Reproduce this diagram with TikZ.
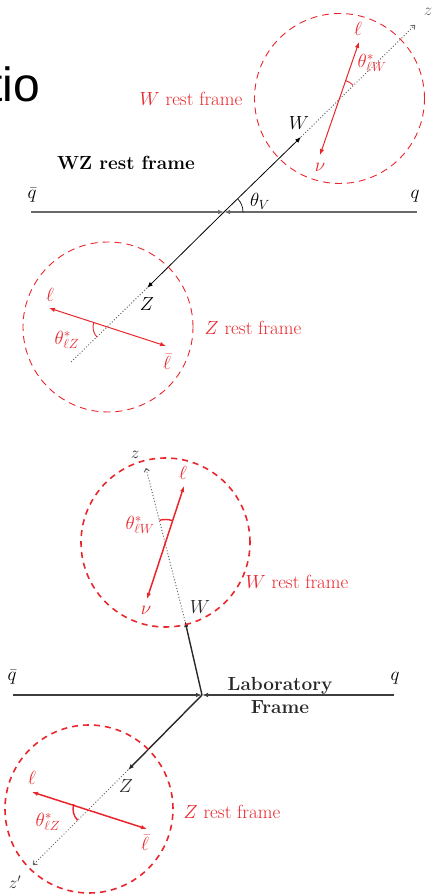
\RequirePackage{fix-cm}
\documentclass[tikz,border=0pt]{standalone}
\usepackage{fontspec}
\newfontfamily\slidefont{Liberation Sans}
\usetikzlibrary{arrows.meta}
\definecolor{fr}{RGB}{232,38,44}
\definecolor{ln}{RGB}{105,105,105}
\definecolor{dk}{RGB}{40,40,40}
\begin{document}
\begin{tikzpicture}[x=1pt,y=1pt,
  lbl/.style={font=\fontsize{19}{23}\selectfont, inner sep=0pt},
  smalllbl/.style={font=\fontsize{17}{20}\selectfont, inner sep=0pt},
  rlbl/.style={lbl, text=fr},
  qlineA/.style={draw=ln, line width=1.1pt, -{Latex[length=6pt,width=4.5pt]}},
  qlineB/.style={draw=dk!90, line width=1.3pt, -{Latex[length=6pt,width=4.5pt]}},
  bosA/.style={draw=black, line width=0.8pt, -{Latex[length=6pt,width=4.5pt]}},
  bosB/.style={draw=dk, line width=1.4pt, -{Latex[length=6pt,width=4.5pt]}},
  dotA/.style={draw=ln, line width=1pt, dotted},
  dotB/.style={draw=ln, line width=1pt, dotted},
  circA/.style={draw=fr, line width=0.9pt, dash pattern=on 7pt off 5pt},
  circB/.style={draw=fr, line width=1.6pt, dash pattern=on 6pt off 5pt},
  redA/.style={draw=fr, line width=1pt, {Latex[length=6pt,width=4.5pt]}-{Latex[length=6pt,width=4.5pt]}},
  redB/.style={draw=fr, line width=1.5pt, {Latex[length=6pt,width=4.5pt]}-{Latex[length=6pt,width=4.5pt]}},
  arcA/.style={draw=fr, line width=0.9pt},
  arcB/.style={draw=fr, line width=1.4pt},
]
\useasboundingbox (0,0) rectangle (439,894);

% slide title fragment
\node[font=\slidefont\fontsize{48}{50}\selectfont, anchor=base east, inner sep=0pt] (tio) at (40,792) {tio};

%%%%%%%%%%%%%%%% TOP: WZ rest frame
\coordinate (O1) at (224,682);
\coordinate (qbL1) at (31,682);
\coordinate (qR1) at (417,682);
\coordinate (W1) at (301,757);
\coordinate (z1) at (415,869);
\coordinate (Wc1) at (339.5,795.5);
\coordinate (nu1) at (320,739);
\coordinate (lw1) at (359,852);
\coordinate (Z1) at (147,606);
\coordinate (zend1) at (70,531);
\coordinate (Zc1) at (108,567);
\coordinate (lz1) at (49,586);
\coordinate (lbz1) at (166,548);

\draw[qlineA] (qbL1) -- (O1);
\draw[qlineA] (qR1) -- (O1);
\draw[bosA] (O1) -- (W1);
\draw[bosA] (O1) -- (Z1);
\draw[dotA, -{To[length=4pt,width=6pt]}] (W1) -- (z1);
\draw[dotA] (Z1) -- (zend1);
\draw[circA] (Wc1) circle[radius=85];
\draw[circA] (Zc1) circle[radius=85];
\draw[redA] (nu1) -- (lw1);
\draw[redA] (lz1) -- (lbz1);
\draw[black, line width=0.7pt] (O1) ++(0:19) arc[start angle=0, end angle=44, radius=19];
\draw[arcA] (Wc1) ++(44.5:19) arc[start angle=44.5, end angle=71, radius=19];
\draw[arcA] (Zc1) ++(162:15) arc[start angle=162, end angle=223.5, radius=15];

\node[lbl] (tqb1) at (32,699) {$\bar q$};
\node[lbl] (tq1) at (415,698) {$q$};
\node[lbl] (tthV) at (260,693) {$\theta_V$};
\node[lbl] (tW1) at (299,771) {$W$};
\node[lbl] (tZ1) at (147,590) {$Z$};
\node[smalllbl, text=ln] (tz1) at (428,882) {$z$};
\node[rlbl] (tl1) at (358,865) {$\ell$};
\node[rlbl] (tnu1) at (320,727) {$\nu$};
\node[rlbl] (tthW1) at (372,831) {$\theta^*_{\ell W}$};
\node[rlbl] (tl2) at (50,599) {$\ell$};
\node[rlbl] (tlb1) at (167,532) {$\bar\ell$};
\node[rlbl] (tthZ1) at (67,554) {$\theta^*_{\ell Z}$};
\node[rlbl] (tWrf1) at (191,795) {$W$ rest frame};
\node[rlbl] (tZrf1) at (253,566) {$Z$ rest frame};
\node[lbl] (tWZ) at (126,731) {\textbf{WZ rest frame}};

%%%%%%%%%%%%%%%% BOTTOM: Laboratory frame
\coordinate (O2) at (202,199);
\coordinate (qbL2) at (13,199);
\coordinate (qR2) at (394,199);
\coordinate (W2) at (185,273);
\coordinate (z2) at (146,426);
\coordinate (Wc2) at (165.5,351.5);
\coordinate (nu2) at (147,295);
\coordinate (lw2) at (184,408);
\coordinate (Z2) at (128,124);
\coordinate (zp2) at (33,29);
\coordinate (Zc2) at (89,85);
\coordinate (lz2) at (32,102);
\coordinate (lbz2) at (147,65);

\draw[qlineB] (qbL2) -- (O2);
\draw[qlineB] (qR2) -- (O2);
\draw[bosB] (O2) -- (W2);
\draw[bosB] (O2) -- (Z2);
\draw[dotB, -{To[length=4pt,width=6pt]}] (W2) -- (z2);
\draw[dotB, -{To[length=4pt,width=6pt]}] (Z2) -- (zp2);
\draw[circB] (Wc2) circle[radius=84.5];
\draw[circB] (Zc2) circle[radius=84];
\draw[redB] (nu2) -- (lw2);
\draw[redB] (lz2) -- (lbz2);
\draw[arcB] (Wc2) ++(72:23) arc[start angle=72, end angle=105, radius=23];
\draw[arcB] (Zc2) ++(162:16) arc[start angle=162, end angle=225, radius=16];

\node[lbl] (tqb2) at (12,217) {$\bar q$};
\node[lbl] (tq2) at (395,216) {$q$};
\node[lbl, text=dk] (tW2) at (200,287) {$W$};
\node[lbl, text=dk] (tZ2) at (126,108) {$Z$};
\node[smalllbl, text=dk] (tz2) at (135,439) {$z$};
\node[smalllbl, text=dk] (tzp2) at (15,12) {$z'$};
\node[rlbl] (tl3) at (183,421) {$\ell$};
\node[rlbl] (tnu2) at (146,284) {$\nu$};
\node[rlbl] (tthW2) at (140,369) {$\theta^*_{\ell W}$};
\node[rlbl] (tl4) at (32,116) {$\ell$};
\node[rlbl] (tlb2) at (145,51) {$\bar\ell$};
\node[rlbl] (tthZ2) at (48,72) {$\theta^*_{\ell Z}$};
\node[rlbl] (tWrf2) at (297,312) {$W$ rest frame};
\node[rlbl] (tZrf2) at (232,82) {$Z$ rest frame};
\node[lbl, align=center, text=dk] (tLab) at (280,198.5) {\textbf{Laboratory}\\\textbf{Frame}};
\end{tikzpicture}
\end{document}
